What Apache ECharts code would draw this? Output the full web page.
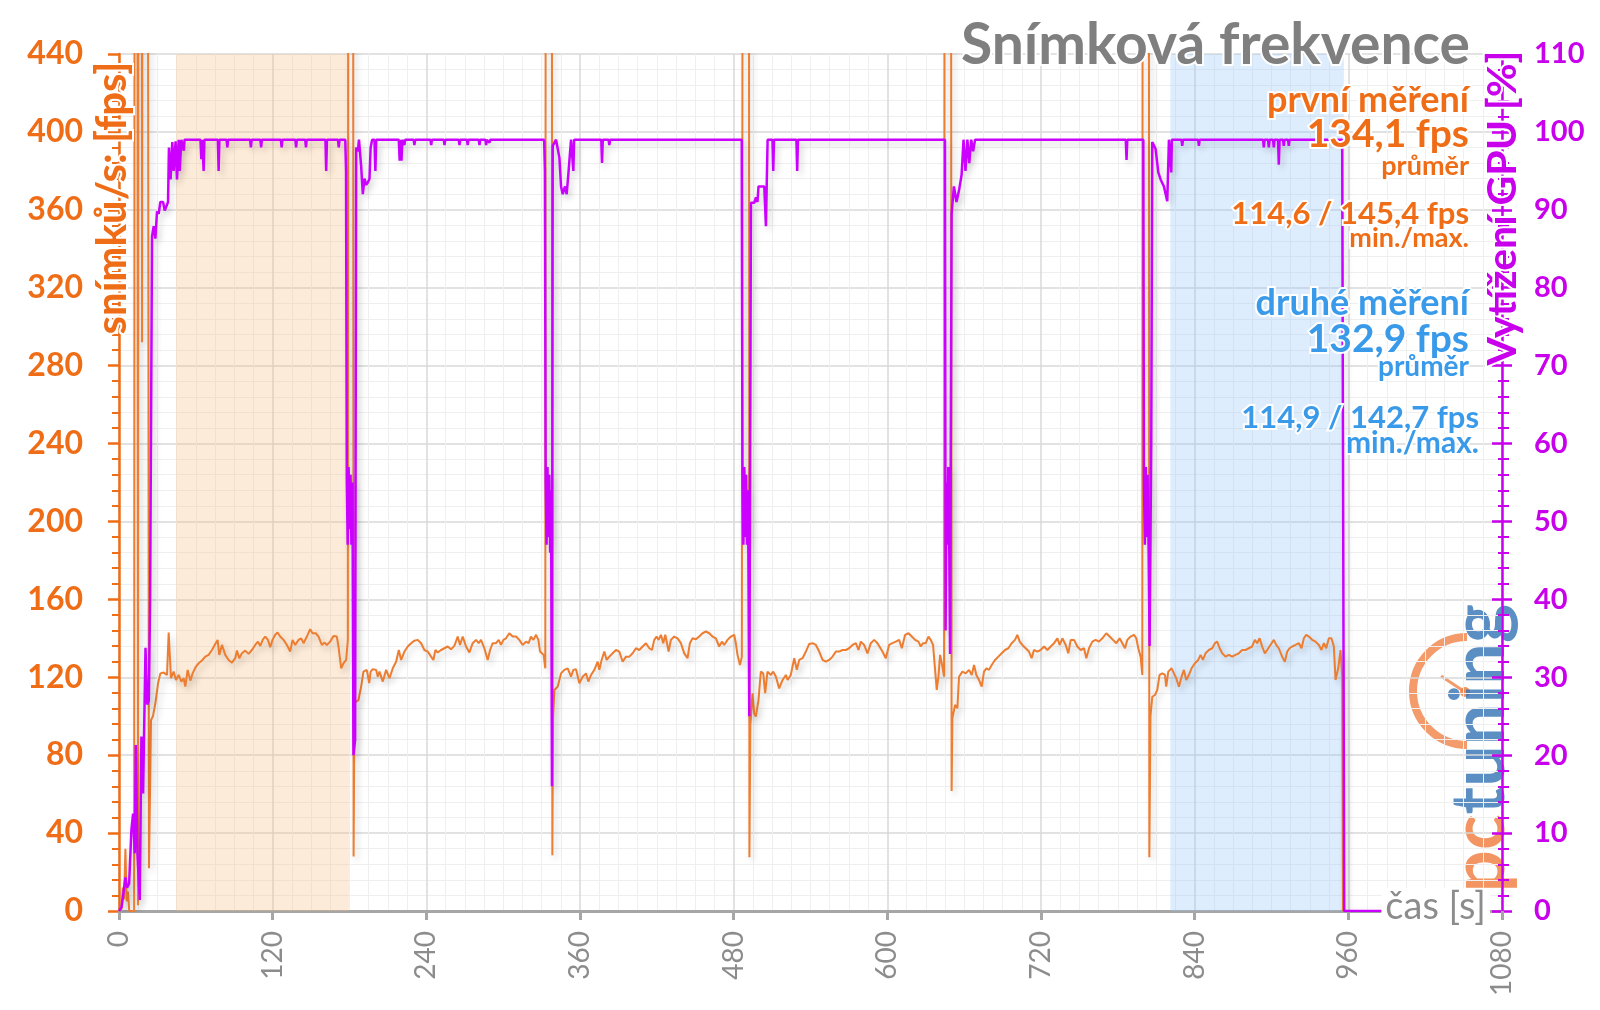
<!DOCTYPE html>
<html><head><meta charset="utf-8">
<script src="https://cdn.jsdelivr.net/npm/echarts@6/dist/echarts.min.js"></script>
<style>html,body{margin:0;padding:0;background:#fff}#c{width:1600px;height:1010px}</style>
</head><body><div id="c"></div>
<script>
// ---- data: [time s, fps] ----
const fpsPoints = [
[0,0],[2,1],[3,12],[4,6],[5,32],[6,5],[7,10],[8,0],[11.8,0],[12.4,900],[14.1,900],[14.8,3],[15.4,900],[17.4,900],[18,292],[18.6,900],[22,900],[23.4,22],[25,98],[26.5,100],[28.4,106.6],[30.5,116.9],[32.3,122],[34.9,122.4],[37.5,121.2],[38.8,143],[40.6,119.5],[42.7,122.9],[44.5,118.6],[46.6,121.2],[48.7,117.8],[50.5,119.5],[51.8,115.2],[53.6,123.8],[55.7,118.3],[57.5,122],[60.1,125.5],[62.2,127.2],[64.8,128.6],[67.4,130.6],[70,131.5],[72.6,134],[75.2,137.1],[77,139.2],[78.3,131.5],[80.4,136.6],[83,131.5],[85.6,128.9],[88.2,127.5],[90.8,129.8],[92.1,133.7],[93.9,129.8],[96,132.3],[98.6,133.7],[101.2,132],[103.8,134],[106.4,136.6],[108.5,138.3],[110.3,136.1],[112.4,139.5],[114.2,140.9],[116.3,139.2],[118.1,135.4],[119.9,139.2],[122,141.8],[123.8,143],[125.9,140.9],[128.5,139.2],[131.1,136.6],[133.7,133.2],[135.5,139.2],[137.6,136.6],[140.2,139.2],[142.3,140],[144.1,137.5],[146.7,140.9],[149.3,144.7],[151.1,142.6],[153.7,142.6],[155.8,140.9],[158.4,136.6],[160.5,137.8],[162.3,136.6],[164.9,138.3],[167.5,141.2],[170.1,140.9],[171.4,135.8],[173.5,124.6],[175.3,127.2],[177.4,128.9],[178.7,139.2],[179.3,900],[182.6,900],[183.2,28],[183.9,107],[187,108.3],[189.1,115.2],[190.9,122.9],[193.5,123.8],[195.4,117],[196.5,122.9],[198.2,124.1],[200.8,123.8],[202.1,120.3],[203.4,122.9],[206,117.8],[208.6,123.8],[211.2,119.5],[213.8,124.6],[216.4,128],[218.5,134],[220.3,128.9],[222.9,133.2],[225.5,135.8],[228.1,137.5],[230.7,138.8],[233.3,139.2],[235.9,137.5],[238.5,134],[241.1,133.2],[243.7,130.6],[245.5,128.9],[247.1,134],[248.9,132.7],[251.5,134],[254.1,134.9],[256.7,135.8],[259.3,134.4],[261.9,136.1],[264.5,140.9],[266.3,136.6],[268.4,140.9],[271,135.8],[273.6,132.7],[276.2,137.5],[278.8,139.2],[280.9,137.5],[282.7,139.2],[285.3,134.9],[287.9,128.9],[289.8,134],[291.8,137.5],[294.4,137.5],[296.5,139.2],[298.3,136.6],[300.2,139.2],[302.2,140],[304.8,142.6],[307.4,140.9],[310,140.9],[312.6,139.2],[315.2,136.6],[317.9,138.3],[319.9,137.5],[321.7,140.9],[323.6,139.2],[325.7,141.8],[327.5,139.2],[328.8,133.2],[330.3,134],[331.6,131.5],[332.9,124.6],[333.5,900],[337.8,900],[338.4,28.6],[339,100],[340,113.5],[342.6,115.2],[345.2,122],[347.8,123.8],[350.4,124.6],[353,120.3],[354.8,123.8],[356.9,124.1],[359.5,116.9],[362.1,120.3],[364.7,122],[366.5,117.8],[368.6,121.2],[371.2,123.8],[373.8,128],[375.1,123.8],[376.9,128.9],[379,133.2],[380.8,128.9],[382.9,130.6],[385.5,132.3],[388.1,134],[390.7,133.2],[393.3,128],[395.9,130.6],[398.5,130.6],[401.1,132.3],[403.7,134.9],[406.3,134],[408.9,135.8],[411.5,137.5],[414.1,134.9],[416.2,134],[418,139.2],[419.8,140.9],[421.4,139.2],[423.2,141.8],[425,137.5],[426.6,141.8],[429.2,133.2],[431,139.2],[433.6,140.9],[436.2,140],[438.8,137.5],[441.4,132.3],[444,129.8],[445.8,137.5],[447.9,140],[450.5,139.5],[453.1,140.9],[455.7,142.6],[458.3,143.5],[460.9,142.6],[463.5,140.9],[466.1,140],[468.7,135.8],[470.8,138.3],[472.6,136.6],[475.2,139.2],[477.8,140.9],[480.4,141.8],[481.7,137.5],[483,131.5],[484.9,126.3],[486.4,130.6],[487.5,900],[491.7,900],[492.3,27.6],[493,95],[494.7,111.8],[496,101.5],[497.3,99.8],[499.4,108.3],[501.2,122.9],[503.1,122],[504.6,111.8],[506.4,122.9],[509,121.2],[510.9,122.9],[513,120.3],[515.5,114.3],[518.2,118.6],[520.8,121.2],[522.1,118.6],[524.6,121.2],[527.3,129.8],[529.3,123.8],[531.2,128.9],[533.8,129.8],[536.4,133.2],[539,137.1],[541.6,137.5],[544.2,136.6],[546.8,133.2],[549.4,128.9],[552,128],[554.6,128.9],[557.2,130.6],[559.8,133.2],[562.4,133.2],[565,134],[567.6,134],[570.2,134.9],[572.8,136.6],[575.4,137.5],[577.5,134],[579.3,138.3],[581.9,136.6],[584.5,132.3],[587.1,137.5],[589.7,139.2],[592.3,137.5],[593.6,136.6],[596.2,133.2],[598.8,129.8],[601.4,136.6],[604,137.5],[606.6,138.3],[609.2,139.2],[611.3,134.9],[613.9,141.8],[616.5,142.6],[619.1,140.9],[621.7,139.2],[624.3,138.3],[626.1,135.8],[627.9,137.5],[630,137.5],[632.1,140.9],[633.9,139.2],[635.7,136.6],[637.3,123.8],[638.6,113.5],[639.9,120.3],[641.2,131.5],[643,125.5],[644.3,120.3],[645,900],[649.4,900],[650.2,61.6],[650.8,98.9],[652.9,105.8],[654.7,104.1],[656,120.3],[658.6,122.9],[661.2,122],[663.8,123.8],[665.9,121.2],[667.7,126.3],[669.5,121.2],[671.6,118.6],[673.7,115.2],[675.5,122.9],[677.4,124.6],[679.4,123.8],[681.5,126.3],[684.1,128.9],[686.7,130.6],[689.3,132.3],[691.9,134],[694.5,134.9],[697.1,137.5],[699.7,139.2],[701.5,141.8],[703.4,138.3],[705.4,136.6],[708,134.9],[710.6,133.2],[712.7,129.8],[714.5,134],[717.2,133.2],[719.7,134],[722.4,135.8],[725,134],[727.6,135.8],[730.2,137.5],[732.8,140],[734.6,136.6],[736.7,140],[739.3,136.6],[741.3,132.3],[743.2,139.2],[745.8,139.2],[748.4,135.8],[751,134],[753.6,134.9],[755.4,129.8],[757.5,134.9],[760.1,138.3],[762.7,139.2],[765.3,138.3],[767.9,140],[771,142.6],[773.6,140.9],[776.2,139.2],[778.8,137.5],[781.4,140],[783.5,137.5],[785.6,134.9],[787.4,139.2],[790,140.9],[792.6,141.8],[794.4,140],[796,134.9],[797.8,130.6],[799.1,121.2],[799.6,900],[804,900],[804.6,27.6],[805.5,100],[806.9,110],[809,110.9],[810.8,113.5],[812.6,121.2],[814.7,122],[816.8,121.2],[817.8,115.2],[819.4,122.9],[822,124.6],[823.8,122],[825.6,119.5],[827.7,115.2],[829.8,120.3],[831.6,123.8],[833.4,118.6],[835.5,121.2],[837.6,124.6],[840.2,127.2],[842.8,128.9],[844.6,131.5],[846.4,128.9],[848.5,132.3],[851.1,134],[853.7,134.9],[855.8,137.5],[857.6,138.3],[859.5,134.9],[861.5,132.3],[864.1,130.6],[866.7,131.5],[869.3,130.6],[871.9,131.5],[874.5,132.3],[877.1,134],[879.7,134],[882.3,134.9],[884.9,135.8],[887,139.2],[888.8,137.5],[890.7,140],[892.7,135.8],[894.8,132.3],[896.6,134],[899.2,136.6],[901.8,139.2],[903.7,136.6],[905.7,134.9],[908.3,130.6],[910.4,128],[912.3,133.2],[914.1,134.9],[916.2,135.8],[918.8,136.6],[921.4,137.5],[923.4,134.9],[925.3,140],[927.1,141.8],[929.2,140.9],[931.8,139.2],[934.4,138.3],[937,136.6],[939,134],[940.9,137.5],[942.7,134.9],[944.8,140],[946.8,140],[948.7,135.8],[950,118.6],[952.1,124.6],[953.9,134],[955.2,120.3],[955.8,0]
];
// ---- data: [time s, GPU load %] ----
const gpuPoints = [
[0,0],[2,0.5],[3.7,2.6],[5,4.3],[6.3,3],[7.9,3.5],[9.7,10.4],[11,12.5],[12.3,7.4],[13.1,21.3],[14.4,7.4],[16.2,1.4],[17.5,22.4],[18.8,15.1],[20.7,33.8],[22,26.5],[23.3,27],[24.3,40],[25.8,86.6],[27.1,87.9],[28.4,86.3],[29.7,89.8],[31,89.5],[32.3,91],[34.4,91],[35.7,89.9],[38.3,91],[39,98],[40.3,93.9],[41.6,98.7],[42.7,95],[44.2,98.8],[45.3,93.9],[46.6,99],[47.4,95],[48.7,99],[50,99],[50.6,97.6],[51.2,99],[63.6,99],[64.3,96.5],[65,99],[65.5,99],[66.1,95],[66.7,99],[77.2,99],[77.8,95],[78.4,99],[84,99],[84.6,98],[85.2,99],[102.4,99],[103,98],[103.6,99],[110.4,99],[111,98],[111.6,99],[126.4,99],[127,98],[127.6,99],[137.7,99],[138.3,98],[138.9,99],[145.4,99],[146,98],[146.6,99],[161.2,99],[161.8,95],[162.4,99],[171,99],[171.6,98],[172.2,99],[176.7,99],[177.3,95],[177.9,55],[178.6,47],[179.3,57],[180,49],[180.8,56],[181.5,47],[182.3,55],[183.1,20],[184.4,22],[185.2,98],[186.5,97.5],[187.4,99],[188.4,99],[189.1,95.6],[190.4,92],[191.7,94],[193,93.2],[194.3,93.5],[195.6,94],[196.5,98],[197.7,99],[199.5,99],[200.2,95],[200.9,99],[218.5,99],[219.2,96.3],[219.9,99],[220.6,96.3],[221.3,99],[222.3,99],[222.9,98.3],[223.5,99],[230.1,99],[230.7,98.3],[231.3,99],[243.2,99],[243.8,98.3],[244.4,99],[253.6,99],[254.2,98.3],[254.8,99],[265.3,99],[265.9,98.3],[266.5,99],[271.7,99],[272.3,98.3],[272.9,99],[280.9,99],[281.5,98.3],[282.1,99],[286.1,99],[286.7,98.3],[287.3,99],[288.7,99],[289.3,98.6],[289.9,99],[332,99],[332.6,95],[333.2,55],[333.9,47],[334.6,57],[335.3,48],[336,56],[336.7,46],[337.4,54],[338.1,16],[338.7,98.2],[341.3,99],[343.9,96.7],[345.2,93],[346.5,92],[348.3,93],[349.6,92],[351.2,95.2],[353,99],[354.2,99],[354.8,95],[355.4,99],[376.6,99],[377.2,96],[377.8,99],[382.3,99],[382.9,98.3],[383.5,99],[486.3,99],[486.9,55],[487.6,47],[488.3,57],[489,48],[489.7,56],[490.4,47],[491.2,54],[492.2,25],[493.5,90.9],[496.1,90.9],[497.4,91.6],[498.6,91],[499.4,93],[503.9,93],[505.2,87.9],[506.5,99],[510.3,99],[510.9,95],[511.5,99],[529,99],[529.6,95],[530.2,99],[645,99],[645.5,36],[646.2,55],[646.9,47],[647.6,57],[648.3,48],[649,33],[650.2,89.5],[652,93],[654,91],[656,92.5],[658,94.5],[659.5,99],[661,95],[662.5,99],[664,96],[665.5,99],[667,97.5],[668.5,99],[786.2,99],[786.8,96.4],[787.4,99],[799.9,99],[800.4,55],[801.1,47],[801.8,57],[802.5,48],[803.2,56],[804,47],[804.8,34],[806.1,60],[806.9,98.7],[809.5,97.8],[811.6,94.8],[813.4,93.9],[816,93],[818.6,91.1],[819.9,99],[821.2,99],[821.7,94.8],[822.2,99],[829.7,99],[830.3,98.2],[830.9,99],[842.7,99],[843.3,98.2],[843.9,99],[893.4,99],[894,98],[894.6,99],[897.3,99],[897.9,98],[898.5,99],[901.2,99],[901.8,98],[902.4,99],[905.1,99],[905.7,95.8],[906.3,99],[909,99],[909.6,98.2],[910.2,99],[912.9,99],[913.5,98.2],[914.1,99],[955.2,99],[956.8,0],[1000,0]
];
// measured intervals (s)
const firstBand = [44.5, 179.5];
const secondBand = [821, 956.5];
// axes
const timeAxis = {min: 0, max: 1080, interval: 120};
const fpsAxis = {min: 0, max: 440, interval: 40};
const gpuAxis = {min: 0, max: 110, interval: 10};
// texts
const titleText = 'Snímková frekvence';
const fpsAxisName = 'snímků/s: [fps]';
const gpuAxisName = 'Vytížení GPU [%]';
const timeAxisName = 'čas [s]';
const firstRunTexts = ['první měření', '134,1 fps', 'průměr', '114,6 / 145,4 fps', 'min./max.'];
const secondRunTexts = ['druhé měření', '132,9 fps', 'průměr', '114,9 / 142,7 fps', 'min./max.'];

const ORANGE = '#ED7D31', ORANGE_T = '#EF6D17', MAG = '#CC00FF', MAG_T = '#C800EC', BLUE_T = '#3A9AEA', GRAY = '#8C8C8C';
const FF = 'Lato, "Open Sans", sans-serif';

function txt(x, y, text, size, color, weight, align, extra) {
  return Object.assign({type: 'text', x: x, y: y, z: 50,
    style: {text: text, font: (weight || 'bold') + ' ' + size + 'px ' + FF, fill: color,
      align: align || 'right', verticalAlign: 'middle', stroke: '#fff', lineWidth: 4, strokeFirst: true}}, extra || {});
}
const plainLabel = v => String(v);

const chart = echarts.init(document.getElementById('c'));
const option = {
  animation: false,
  backgroundColor: '#fff',
  grid: {left: 119, right: 98, top: 54, bottom: 99},
  xAxis: {
    type: 'value', min: timeAxis.min, max: timeAxis.max, interval: timeAxis.interval,
    axisLine: {show: true, onZero: false, lineStyle: {color: '#A6A6A6', width: 3}},
    axisTick: {show: true, length: 9, lineStyle: {color: '#A6A6A6', width: 3}},
    minorTick: {show: true, splitNumber: 8, length: 0, lineStyle: {width: 0}},
    axisLabel: {rotate: 90, margin: 20, color: GRAY, fontFamily: FF, fontSize: 28, formatter: plainLabel},
    splitLine: {show: true, lineStyle: {color: '#D9D9D9', width: 1.5}},
    minorSplitLine: {show: true, lineStyle: {color: '#EFEFEF', width: 1}}
  },
  yAxis: [{
    type: 'value', min: fpsAxis.min, max: fpsAxis.max, interval: fpsAxis.interval, position: 'left',
    axisLine: {show: true, lineStyle: {color: ORANGE_T, width: 2.5}},
    axisTick: {show: true, length: 11, lineStyle: {color: ORANGE_T, width: 2.5}},
    minorTick: {show: true, splitNumber: 5, length: 7, lineStyle: {color: ORANGE_T, width: 2}},
    axisLabel: {margin: 36, color: ORANGE_T, fontFamily: FF, fontWeight: 'bold', fontSize: 32, formatter: plainLabel},
    splitLine: {show: true, lineStyle: {color: '#D9D9D9', width: 1.5}},
    minorSplitLine: {show: true, lineStyle: {color: '#EFEFEF', width: 1}}
  }, {
    type: 'value', min: gpuAxis.min, max: gpuAxis.max, interval: gpuAxis.interval, position: 'right',
    axisLine: {show: true, lineStyle: {color: MAG_T, width: 2.5}},
    axisTick: {show: true, length: 10, lineStyle: {color: MAG_T, width: 2.5}},
    minorTick: {show: true, splitNumber: 5, length: 7, lineStyle: {color: MAG_T, width: 2}},
    axisLabel: {margin: 32, color: MAG_T, fontFamily: FF, fontWeight: 'bold', fontSize: 29, formatter: plainLabel},
    splitLine: {show: false}
  }, {
    // inward half of the right axis ticks
    type: 'value', min: gpuAxis.min, max: gpuAxis.max, interval: gpuAxis.interval, position: 'right',
    axisLine: {show: false},
    axisTick: {show: true, inside: true, length: 10, lineStyle: {color: MAG_T, width: 2.5}},
    minorTick: {show: true, splitNumber: 5, length: 4, lineStyle: {color: MAG_T, width: 2}},
    axisLabel: {show: false},
    splitLine: {show: false}
  }],
  series: [{
    type: 'line', name: 'bands', data: [], z: 1, silent: true,
    markArea: {silent: true, data: [
      [{xAxis: firstBand[0], itemStyle: {color: 'rgba(248,190,130,0.30)'}}, {xAxis: firstBand[1]}],
      [{xAxis: secondBand[0], itemStyle: {color: 'rgba(150,200,250,0.32)'}}, {xAxis: secondBand[1]}]
    ]}
  }, {
    type: 'line', name: 'fps', data: fpsPoints, yAxisIndex: 0, symbol: 'none', z: 3,
    lineStyle: {color: ORANGE, width: 2, shadowColor: 'rgba(0,0,0,0.18)', shadowBlur: 6, shadowOffsetX: 3, shadowOffsetY: 4}
  }, {
    type: 'line', name: 'gpu', data: gpuPoints, yAxisIndex: 1, symbol: 'none', z: 4,
    lineStyle: {color: MAG, width: 2.5, shadowColor: 'rgba(0,0,0,0.18)', shadowBlur: 6, shadowOffsetX: 3, shadowOffsetY: 4}
  }],
  graphic: [
    // logo (watermark)
    {type: 'group', z: 5, children: [
      {type: 'arc', shape: {cx: 1467, cy: 691, r: 54, startAngle: -Math.PI / 2, endAngle: Math.PI / 2, clockwise: false},
        style: {stroke: 'rgba(240,130,70,0.8)', lineWidth: 8, fill: null}},
      {type: 'line', shape: {x1: 1441, y1: 676, x2: 1465, y2: 692}, style: {stroke: 'rgba(240,130,70,0.8)', lineWidth: 3}},
      {type: 'circle', shape: {cx: 1465, cy: 692, r: 5}, style: {fill: 'rgba(240,130,70,0.85)'}},
      {type: 'text', x: 1480, y: 748, rotation: Math.PI / 2,
        style: {text: '{a|pc}{b|tuning}', align: 'center', verticalAlign: 'middle',
          rich: {a: {fill: 'rgba(240,130,70,0.85)', font: 'bold 74px ' + FF}, b: {fill: 'rgba(50,115,180,0.8)', font: 'bold 74px ' + FF}}}}
    ]},
    txt(1470, 46, titleText, 57, '#7F7F7F'),
    txt(112, 198, fpsAxisName, 42, ORANGE_T, 'bold', 'center', {rotation: Math.PI / 2}),
    txt(1503, 208, gpuAxisName, 41, MAG_T, 'bold', 'center', {rotation: Math.PI / 2}),
    {type: 'text', x: 1490, y: 907, z: 60, style: {text: timeAxisName, font: '38px ' + FF, fill: GRAY,
      align: 'right', verticalAlign: 'middle', backgroundColor: '#fff', padding: [0, 4]}},
    txt(1469, 100, firstRunTexts[0], 36, ORANGE_T),
    txt(1469, 134, firstRunTexts[1], 39, ORANGE_T),
    txt(1469, 166, firstRunTexts[2], 27, ORANGE_T),
    txt(1469, 214, firstRunTexts[3], 31, ORANGE_T),
    txt(1469, 238, firstRunTexts[4], 27, ORANGE_T),
    txt(1469, 303, secondRunTexts[0], 36, BLUE_T),
    txt(1469, 339, secondRunTexts[1], 39, BLUE_T),
    txt(1469, 367, secondRunTexts[2], 28, BLUE_T),
    txt(1479, 418, secondRunTexts[3], 31, BLUE_T),
    txt(1479, 443, secondRunTexts[4], 30, BLUE_T)
  ]
};
chart.setOption(option);
</script></body></html>
